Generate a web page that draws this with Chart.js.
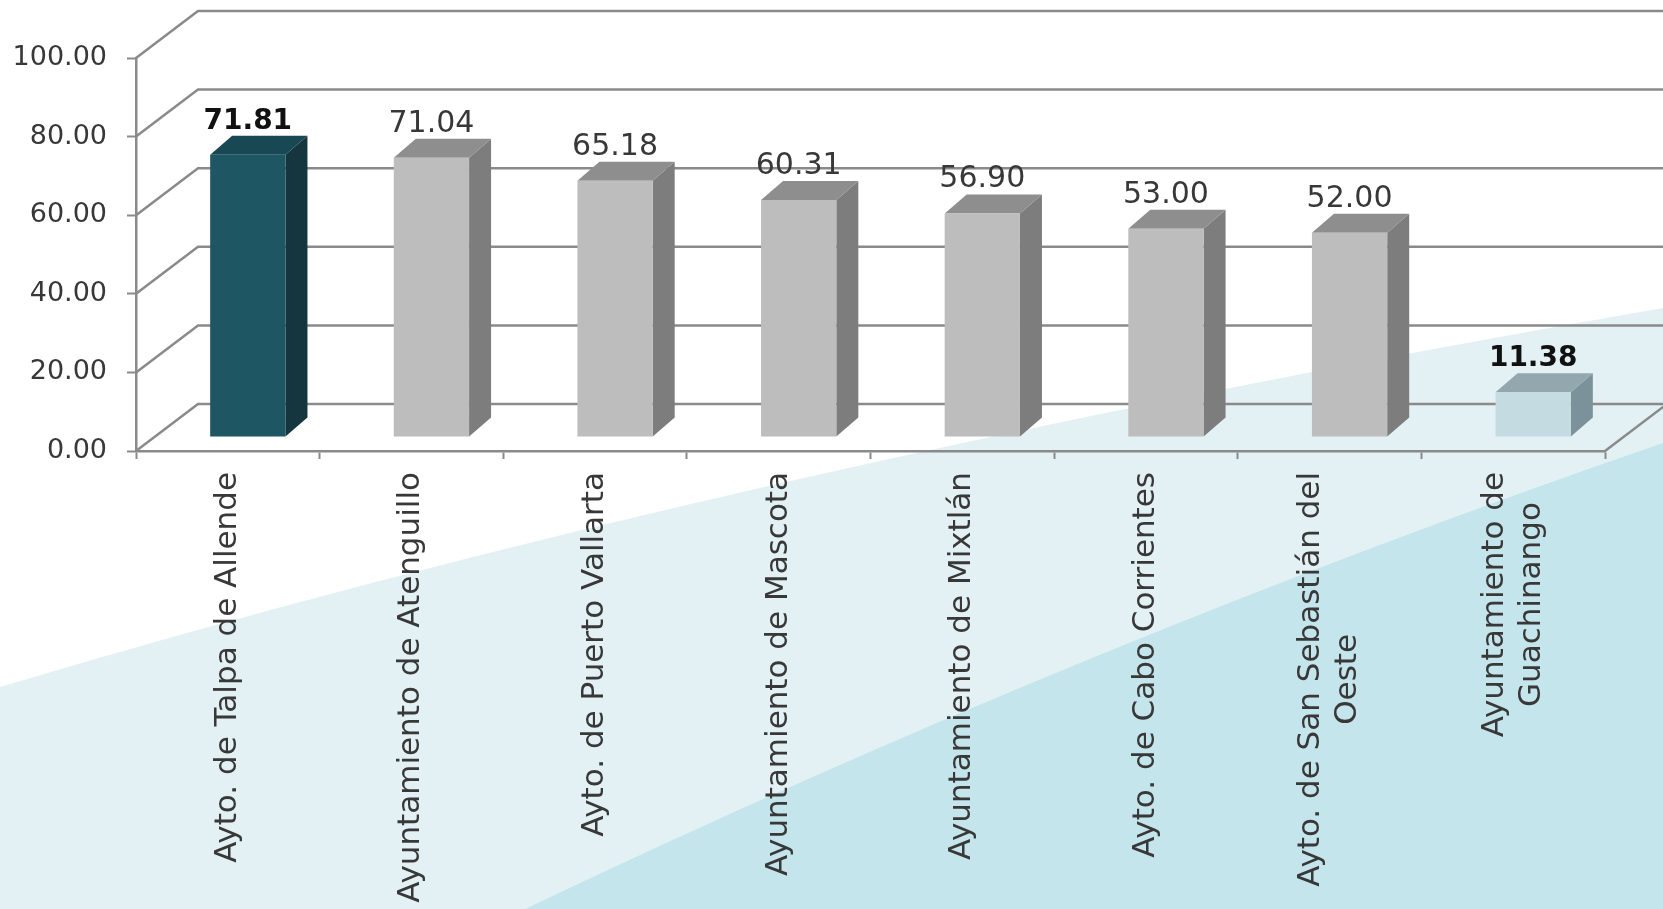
<!DOCTYPE html>
<html>
<head>
<meta charset="utf-8">
<script src="https://cdn.jsdelivr.net/npm/chart.js@4.4.1/dist/chart.umd.min.js"></script>
<style>
  html, body { margin: 0; padding: 0; background: #ffffff; }
  #chart { display: block; }
</style>
</head>
<body>
<canvas id="chart" width="1663" height="909"></canvas>
<script>
// data
const categories = [
    'Ayto. de Talpa de Allende',
    'Ayuntamiento de Atenguillo',
    'Ayto. de Puerto Vallarta',
    'Ayuntamiento de Mascota',
    'Ayuntamiento de Mixtlán',
    'Ayto. de Cabo Corrientes',
    ['Ayto. de San Sebastián del', 'Oeste'],
    ['Ayuntamiento de', 'Guachinango']
];
const values = [71.81, 71.04, 65.18, 60.31, 56.90, 53.00, 52.00, 11.38];
const yTickValues = [0, 20, 40, 60, 80, 100];

// fake 3d depth (pixels)
const WALL = { dx: 62, dy: 47 };   // front plane -> back wall
const SHIFT = { dx: 20, dy: 14 };  // front plane -> bar front face
const BOX = { dx: 22, dy: 19 };    // bar depth

const GRID = '#8a8a8a';
const TEXT = '#383838';
const FONT = '"DejaVu Sans", sans-serif';
const LABEL_SIZE = 31;

const maxV = Math.max(...values);
const minV = Math.min(...values);

function palette(v) {
    if (v === maxV) return { front: '#1f5664', side: '#15363f', top: '#184854' };
    if (v === minV) return { front: '#c4dbe1', side: '#7b929a', top: '#93a7ae' };
    return { front: '#bdbdbd', side: '#7d7d7d', top: '#8e8e8e' };
}

const boxes3d = {
    id: 'boxes3d',
    beforeDraw(chart) {
        const ctx = chart.ctx;
        const w = chart.width, h = chart.height;
        ctx.save();
        ctx.fillStyle = '#ffffff';
        ctx.fillRect(0, 0, w, h);
        // background swooshes
        ctx.fillStyle = '#e3f1f5';
        ctx.beginPath();
        ctx.moveTo(0, 687);
        ctx.quadraticCurveTo(725, 470, w, 308);
        ctx.lineTo(w, h);
        ctx.lineTo(0, h);
        ctx.closePath();
        ctx.fill();
        ctx.fillStyle = '#c5e5ec';
        ctx.beginPath();
        ctx.moveTo(525, h);
        ctx.quadraticCurveTo(1090, 640, w, 443);
        ctx.lineTo(w, h);
        ctx.closePath();
        ctx.fill();
        ctx.restore();
    },
    beforeDatasetsDraw(chart) {
        const ctx = chart.ctx;
        const { left, right, bottom } = chart.chartArea;
        const y = chart.scales.y;
        ctx.save();
        ctx.strokeStyle = GRID;
        ctx.lineWidth = 2.5;
        ctx.beginPath();
        yTickValues.forEach(v => {
            const py = y.getPixelForValue(v);
            ctx.moveTo(left, py);
            ctx.lineTo(left + WALL.dx, py - WALL.dy);
            ctx.lineTo(right + WALL.dx, py - WALL.dy);
        });
        ctx.moveTo(right, bottom);
        ctx.lineTo(right + WALL.dx, bottom - WALL.dy);
        ctx.stroke();

        // side and top faces of each bar
        const meta = chart.getDatasetMeta(0);
        meta.data.forEach((bar, i) => {
            const c = palette(values[i]);
            const l = bar.x - bar.width / 2 + SHIFT.dx;
            const r = bar.x + bar.width / 2 + SHIFT.dx;
            const t = bar.y - SHIFT.dy;
            const b = bar.base - SHIFT.dy;
            ctx.fillStyle = c.side;
            ctx.beginPath();
            ctx.moveTo(r, t);
            ctx.lineTo(r + BOX.dx, t - BOX.dy);
            ctx.lineTo(r + BOX.dx, b - BOX.dy);
            ctx.lineTo(r, b);
            ctx.closePath();
            ctx.fill();
            ctx.fillStyle = c.top;
            ctx.beginPath();
            ctx.moveTo(l, t);
            ctx.lineTo(l + BOX.dx, t - BOX.dy);
            ctx.lineTo(r + BOX.dx, t - BOX.dy);
            ctx.lineTo(r, t);
            ctx.closePath();
            ctx.fill();
        });
        ctx.restore();
        // front faces are the chart's own bars, pushed back into the box
        ctx.save();
        ctx.translate(SHIFT.dx, -SHIFT.dy);
    },
    afterDatasetsDraw(chart) {
        const ctx = chart.ctx;
        ctx.restore();
        const meta = chart.getDatasetMeta(0);
        ctx.save();
        ctx.textAlign = 'center';
        ctx.textBaseline = 'alphabetic';
        meta.data.forEach((bar, i) => {
            const v = values[i];
            const strong = v === maxV || v === minV;
            ctx.font = (strong ? 'bold 28px ' : '30px ') + FONT;
            ctx.fillStyle = strong ? '#111111' : TEXT;
            ctx.fillText(v.toFixed(2), bar.x + SHIFT.dx, bar.y - SHIFT.dy - BOX.dy - 7);
        });
        ctx.restore();
    },
    afterDraw(chart) {
        // category labels: rotated, block ends at the axis, lines centred on each other
        const ctx = chart.ctx;
        const x = chart.scales.x;
        const top = chart.chartArea.bottom + 21;
        const lineH = LABEL_SIZE * 1.2;
        ctx.save();
        ctx.font = LABEL_SIZE + 'px ' + FONT;
        ctx.fillStyle = TEXT;
        ctx.textAlign = 'center';
        ctx.textBaseline = 'middle';
        categories.forEach((cat, i) => {
            const lines = [].concat(cat);
            const blockW = Math.max(...lines.map(s => ctx.measureText(s).width));
            ctx.save();
            ctx.translate(x.getPixelForTick(i), top);
            ctx.rotate(-Math.PI / 2);
            lines.forEach((s, j) => {
                ctx.fillText(s, -blockW / 2, (j - (lines.length - 1) / 2) * lineH);
            });
            ctx.restore();
        });
        ctx.restore();
    }
};

new Chart(document.getElementById('chart'), {
    type: 'bar',
    data: {
        labels: categories,
        datasets: [{
            data: values,
            backgroundColor: values.map(v => palette(v).front),
            borderWidth: 0,
            categoryPercentage: 1,
            barPercentage: 0.41
        }]
    },
    options: {
        responsive: false,
        animation: false,
        layout: { padding: { top: 58, right: 58, left: 0, bottom: 0 } },
        scales: {
            x: {
                afterFit: s => { s.height = 458; },
                border: { color: GRID, width: 2.5 },
                grid: { offset: true, color: 'transparent', tickColor: GRID, tickLength: 8, tickWidth: 2 },
                ticks: { display: false, autoSkip: false }
            },
            y: {
                min: 0,
                max: 100,
                afterFit: s => { s.width = 136; },
                afterBuildTicks: s => { s.ticks = yTickValues.map(v => ({ value: v })); },
                border: { color: GRID, width: 2.5 },
                grid: { color: 'transparent', tickColor: GRID, tickLength: 9, tickWidth: 2 },
                ticks: {
                    padding: 20,
                    color: TEXT,
                    font: { family: FONT, size: 27 },
                    callback: v => v.toFixed(2)
                }
            }
        },
        plugins: {
            legend: { display: false },
            tooltip: { enabled: false }
        }
    },
    plugins: [boxes3d]
});
</script>
</body>
</html>
